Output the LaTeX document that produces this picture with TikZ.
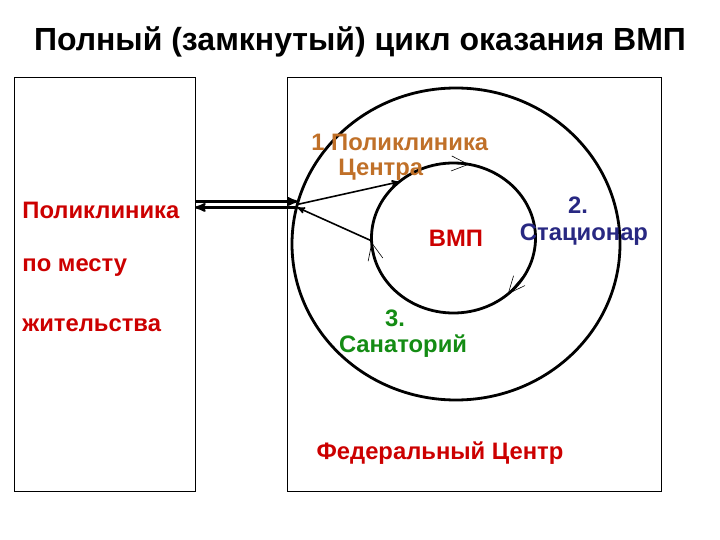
\documentclass[tikz,border=0pt]{standalone}
\usepackage{fontspec}
\setmainfont{Liberation Sans}
\usetikzlibrary{arrows,arrows.meta,shapes.geometric}
\definecolor{vmpred}{RGB}{204,0,0}
\definecolor{centrebrown}{RGB}{192,112,40}
\definecolor{statnavy}{RGB}{40,40,130}
\definecolor{sanagreen}{RGB}{20,140,20}

\begin{document}
\begin{tikzpicture}[x=1pt,y=-1pt,->,>=stealth',thick,
    box node/.style={rectangle,draw,line width=0.8pt,minimum width=#1,minimum height=414pt,inner sep=0pt},
    ring node/.style={ellipse,draw,line width=2.8pt,inner sep=0pt,outer sep=0pt},
    text node/.style={font=\bfseries\fontsize{23.8}{28}\selectfont,inner sep=0pt},
    title node/.style={font=\bfseries\fontsize{32}{36}\selectfont,inner sep=0pt},
    flow/.style={-{Straight Barb[length=17pt,width=15pt]},line width=0.6pt}]

  \useasboundingbox (0,0) rectangle (720,540);

  \node[title node] (title) at (360,42) {Полный (замкнутый) цикл оказания ВМП};

  \node[box node=181pt] (local) at (104.5,284) {};
  \node[box node=374pt] (federal) at (474,284) {};
  \node[ring node,minimum width=328pt,minimum height=312pt] (ring) at (456,244) {};
  \node[ring node,minimum width=164pt,minimum height=150pt] (core) at (453.5,238) {};

  \node[text node,anchor=west,text=vmpred] (poly) at (22,210) {Поликлиника};
  \node[text node,anchor=west,text=vmpred] (place) at (22,268) {по месту};
  \node[text node,anchor=west,text=vmpred] (home) at (22,325) {жительства};

  \node[text node,anchor=west,text=centrebrown] (centre) at (311,142) {1 Поликлиника};
  \node[text node,anchor=west,text=centrebrown] (centre2) at (338,170) {Центра};
  \node[text node,text=vmpred] (vmp) at (456,238) {ВМП};
  \node[text node,text=statnavy] (stat) at (578,205) {2.};
  \node[text node,text=statnavy] (stat2) at (584,235) {Стационар};
  \node[text node,text=sanagreen] (sana) at (395,318) {3.};
  \node[text node,text=sanagreen] (sana2) at (403,346) {Санаторий};
  \node[text node,text=vmpred] (fed) at (440,453) {Федеральный Центр};

  % link with the local clinic
  \coordinate (hub) at (ring.166);
  \coordinate (hub up) at ([yshift=3pt]hub);
  \coordinate (hub down) at ([yshift=-3pt]hub);
  \draw[line width=2.4pt] (local.east |- hub up) -- (hub up);
  \draw[line width=2.4pt] (hub down) -- (local.east |- hub down);

  \draw[line width=1.6pt] (hub) -- (core.134);
  \draw[line width=1.6pt] (core.182) -- (hub down);

  % cycle on the inner ring
  \draw[flow] (core.95) -- (core.78);
  \draw[flow] (core.198) -- (core.183);
  \draw[flow] (core.335) -- (core.314);

\end{tikzpicture}
\end{document}
